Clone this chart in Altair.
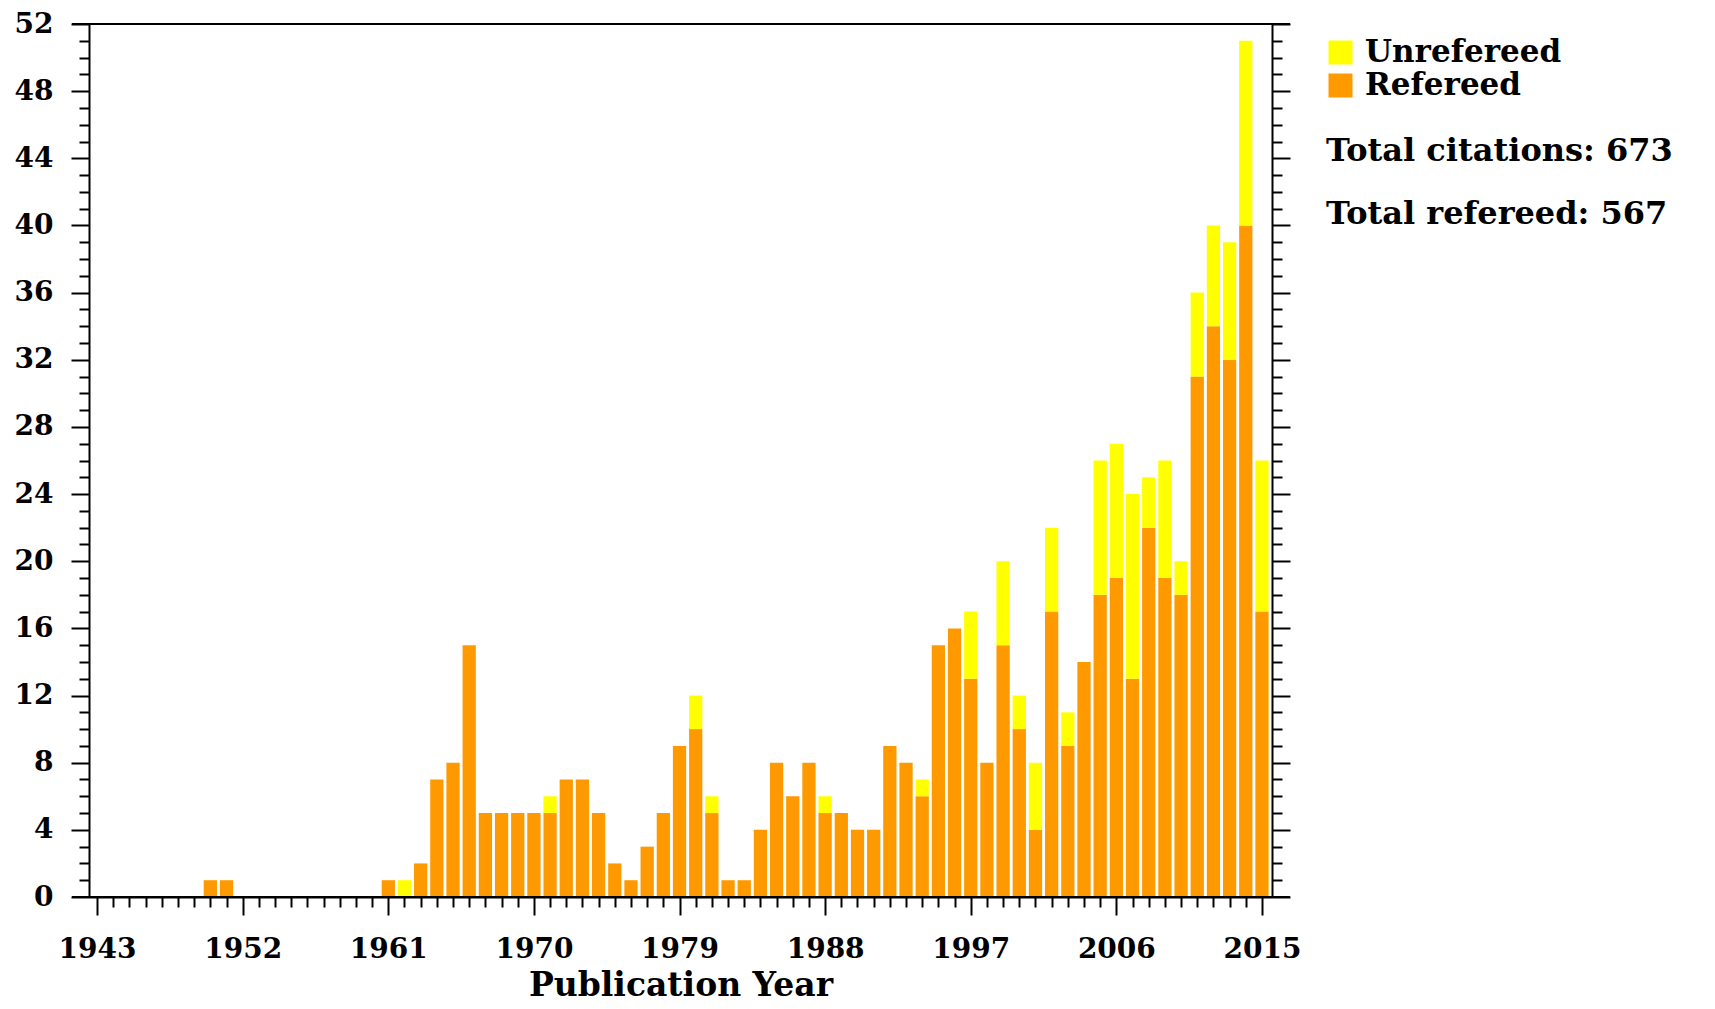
import altair as alt
import pandas as pd

# ---- data ----
years = [1950, 1951] + list(range(1961, 2016))
refereed = [1, 1,
            1, 0, 2, 7, 8, 15, 5, 5, 5, 5,
            5, 7, 7, 5, 2, 1, 3, 5, 9, 10,
            5, 1, 1, 4, 8, 6, 8, 5, 5, 4,
            4, 9, 8, 6, 15, 16, 13, 8, 15, 10,
            4, 17, 9, 14, 18, 19, 13, 22, 19, 18,
            31, 34, 32, 40, 17]
unrefereed = [0, 0,
              0, 1, 0, 0, 0, 0, 0, 0, 0, 0,
              1, 0, 0, 0, 0, 0, 0, 0, 0, 2,
              1, 0, 0, 0, 0, 0, 0, 1, 0, 0,
              0, 0, 0, 1, 0, 0, 4, 0, 5, 2,
              4, 5, 2, 0, 8, 8, 11, 3, 7, 2,
              5, 6, 7, 11, 9]
series = ["Unrefereed", "Refereed"]
colors = ["#FFFF00", "#FF9900"]
x_tick_years = list(range(1943, 2016))
y_tick_values = list(range(0, 53))
notes = ["Total citations: 673", "Total refereed: 567"]

rows = []
for y, r, u in zip(years, refereed, unrefereed):
    rows.append({"year": y, "type": "Refereed", "count": r, "ord": 0})
    rows.append({"year": y, "type": "Unrefereed", "count": u, "ord": 1})
df = pd.DataFrame(rows)

W, H = 1183, 873
FONT = "DejaVu Serif"

xaxis = alt.Axis(
    title="Publication Year", values=x_tick_years, format="d",
    labelExpr="(datum.value - 1943) % 9 == 0 ? datum.label : ''",
    tickSize={"condition": {"test": "(datum.value - 1943) % 9 == 0", "value": 18}, "value": 10},
    tickWidth=2, tickColor="black", domainColor="black", domainWidth=2,
    labelFont=FONT, labelFontSize=28, labelFontWeight="bold", labelColor="black",
    labelPadding=20, labelOverlap=False, labelFlush=False,
    titleFont=FONT, titleFontSize=33, titleFontWeight="bold", titleColor="black",
    titlePadding=6, grid=False,
)

def yaxis(orient, labels):
    return alt.Axis(
        title=None, orient=orient, values=y_tick_values, labels=labels,
        labelExpr="datum.value % 4 == 0 ? datum.label : ''",
        tickSize={"condition": {"test": "datum.value % 4 == 0", "value": 18}, "value": 10},
        tickWidth=2, tickColor="black", domainColor="black", domainWidth=2,
        labelFont=FONT, labelFontSize=28, labelFontWeight="bold", labelColor="black",
        labelPadding=18, labelOverlap=False, labelFlush=False, grid=False,
    )

base = alt.Chart(df).transform_stack(
    stack="count", groupby=["year"], sort=[alt.SortField("ord", order="ascending")],
    as_=["y0", "y1"],
).transform_calculate(x0="datum.year - 0.41", x1="datum.year + 0.41")

xenc = alt.X("x0:Q", scale=alt.Scale(domain=[1942.5, 2015.62], nice=False, zero=False), axis=xaxis)
yscale = alt.Scale(domain=[0, 52], nice=False, zero=True)

bars = base.mark_bar(stroke=None).encode(
    x=xenc, x2="x1:Q",
    y=alt.Y("y0:Q", scale=yscale, axis=yaxis("left", True)), y2="y1:Q",
    color=alt.Color("type:N", scale=alt.Scale(domain=series, range=colors),
                    legend=alt.Legend(orient="none", legendX=1236, legendY=13, title=None,
                                      symbolType="square", symbolSize=576, symbolStrokeWidth=0,
                                      symbolOpacity=1,
                                      labelFont=FONT, labelFontSize=31, labelFontWeight="bold",
                                      labelColor="black", labelOffset=9, rowPadding=1,
                                      padding=0, labelLimit=500)),
)

right = base.mark_bar(opacity=0).encode(
    x=xenc, x2="x1:Q",
    y=alt.Y("y0:Q", scale=yscale, axis=yaxis("right", False)), y2="y1:Q",
)

one = pd.DataFrame({"a": [0]})
top_line = alt.Chart(one).mark_rule(color="black", strokeWidth=2).encode(
    x=alt.value(-17), x2=alt.value(W + 18), y=alt.value(0))
bottom_line = alt.Chart(one).mark_rule(color="black", strokeWidth=2).encode(
    x=alt.value(-17), x2=alt.value(W + 18), y=alt.value(H))

note1 = alt.Chart(pd.DataFrame({"t": [notes[0]]})).mark_text(
    align="left", baseline="alphabetic", font=FONT, fontSize=32, fontWeight="bold", color="black"
).encode(text="t:N", x=alt.value(1237), y=alt.value(137))
note2 = alt.Chart(pd.DataFrame({"t": [notes[1]]})).mark_text(
    align="left", baseline="alphabetic", font=FONT, fontSize=32, fontWeight="bold", color="black"
).encode(text="t:N", x=alt.value(1237), y=alt.value(200))

chart = alt.layer(bars, right, top_line, bottom_line, note1, note2).resolve_axis(
    y="independent"
).properties(
    width=W, height=H,
    autosize=alt.AutoSizeParams(type="none"),
    padding={"left": 81, "top": 16, "right": 420, "bottom": 103},
).configure_view(stroke=None).configure(background="white")

chart.save("out.html", embed_options={"renderer": "svg", "actions": False})
